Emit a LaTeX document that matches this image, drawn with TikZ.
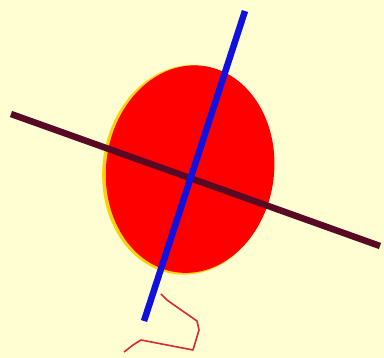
\documentclass[tikz,border=0pt]{standalone}
\usepackage{tikz}
\usetikzlibrary{calc}
\definecolor{bgyellow}{HTML}{FFFDD2}
\definecolor{maroonline}{HTML}{580A24}
\definecolor{blueline}{HTML}{1010E0}
\definecolor{trailred}{HTML}{D8283C}

\begin{document}
\begin{tikzpicture}[x=1pt,y=-1pt,
    axisline/.style={line width=6.5pt},
    trail/.style={line width=1.6pt,trailred,line join=round}]
  % background
  \fill[bgyellow] (0,0) rectangle (384,358);
  \useasboundingbox (0,0) rectangle (384,358);

  % blob with fringe
  \fill[yellow!70!orange,rotate around={-7:(189,170)}] (188,170) ellipse (85.5 and 105);
  \fill[red,rotate around={-7:(189,170)}] (190,169) ellipse (84 and 104);

  % axes of the blob
  \coordinate (mL) at (11,114);
  \coordinate (mR) at (380,246);
  \coordinate (bT) at (245,11);
  \coordinate (bB) at (144,321);
  \draw[axisline,maroonline] (mL) -- (mR);
  \draw[axisline,blueline] (bT) -- (bB);

  % trail
  \draw[trail] (161,294) -- (167,300) -- (174,305) -- (197,321) -- (199,330)
    -- (193,350) -- (141,340) -- (133,345) -- (124,352);
\end{tikzpicture}
\end{document}
